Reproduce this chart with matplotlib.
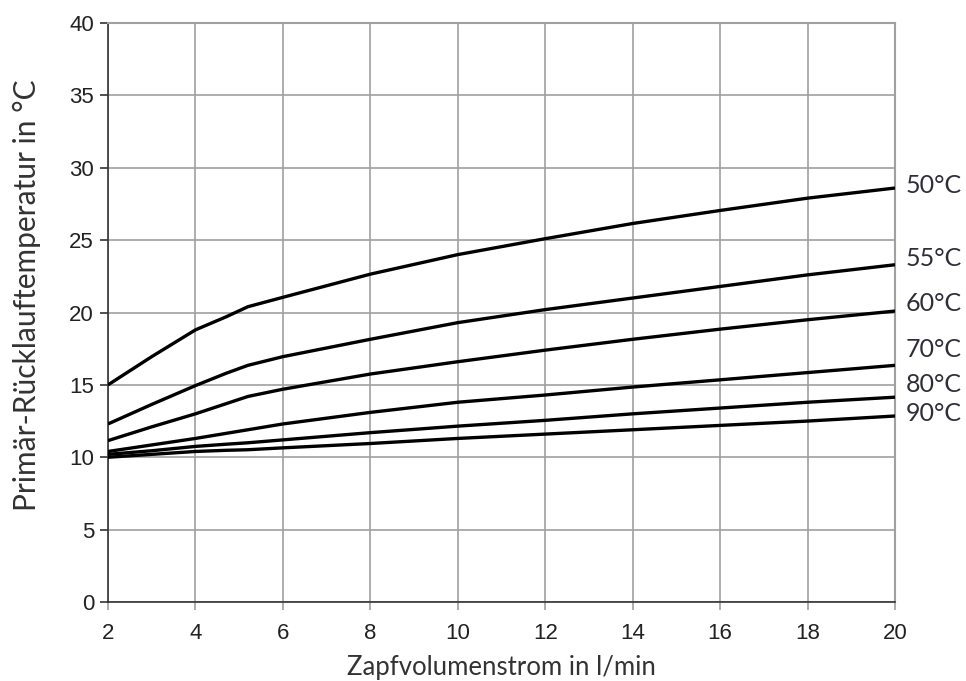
import matplotlib.pyplot as plt

# Zapfvolumenstrom (l/min)
x = [2, 3, 4, 4.7, 5.2, 6, 8, 10, 12, 14, 16, 18, 20]

# Primär-Rücklauftemperatur je Warmwasser-Solltemperatur
t50 = [15.0, 16.95, 18.8, 19.7, 20.4, 21.05, 22.65, 24.0, 25.1, 26.15, 27.05, 27.9, 28.6]
t55 = [12.3, 13.65, 14.95, 15.8, 16.35, 16.95, 18.15, 19.3, 20.2, 21.0, 21.8, 22.6, 23.3]
t60 = [11.15, 12.1, 13.0, 13.7, 14.2, 14.7, 15.75, 16.6, 17.4, 18.15, 18.85, 19.5, 20.1]
t70 = [10.4, 10.85, 11.3, 11.65, 11.9, 12.3, 13.1, 13.8, 14.3, 14.85, 15.35, 15.85, 16.35]
t80 = [10.2, 10.45, 10.75, 10.9, 11.0, 11.2, 11.7, 12.15, 12.55, 13.0, 13.4, 13.8, 14.15]
t90 = [10.0, 10.2, 10.4, 10.48, 10.52, 10.65, 10.95, 11.3, 11.6, 11.9, 12.2, 12.5, 12.85]

kurven = [t50, t55, t60, t70, t80, t90]
namen = ['50°C', '55°C', '60°C', '70°C', '80°C', '90°C']
label_y = [28.75, 23.75, 20.6, 17.45, 15.05, 13.0]

fig = plt.figure(figsize=(9.66, 6.81), dpi=100)
ax = fig.add_axes([0.1118, 0.116, 0.8147, 0.8502])

for y in kurven:
    ax.plot(x, y, color='black', lw=2.4, solid_capstyle='butt', zorder=3)

for name, ly in zip(namen, label_y):
    ax.text(20.25, ly, name, fontsize=18, family='Lato', color='#2e2e38', va='center', ha='left')

ax.set_xlim(2, 20)
ax.set_ylim(0, 40)
ax.set_xticks(range(2, 21, 2))
ax.set_yticks(range(0, 41, 5))
ax.grid(True, color='#a0a0a0', lw=1.2)
ax.set_axisbelow(True)

for s in ['top', 'right']:
    ax.spines[s].set_color('#a0a0a0')
    ax.spines[s].set_linewidth(1.5)
for s in ['left', 'bottom']:
    ax.spines[s].set_color('#333333')
    ax.spines[s].set_linewidth(1.2)

ax.tick_params(axis='y', direction='out', length=6, width=1.2, color='#333333', pad=4,
               labelsize=16, labelcolor='#222222')
ax.tick_params(axis='x', direction='out', length=6, width=1.2, color='#a0a0a0', pad=9,
               labelsize=16, labelcolor='#222222')
for lab in ax.get_xticklabels() + ax.get_yticklabels():
    lab.set_family('Liberation Sans')

ax.set_xlabel('Zapfvolumenstrom in l/min', fontsize=18.5, family='Lato', color='#333333', labelpad=8)
ax.set_ylabel('Primär-Rücklauftemperatur in °C', fontsize=21.5, family='Lato', color='#333333')
ax.yaxis.set_label_coords(-0.085, 0.53)

fig.savefig('out.png', dpi=100)
